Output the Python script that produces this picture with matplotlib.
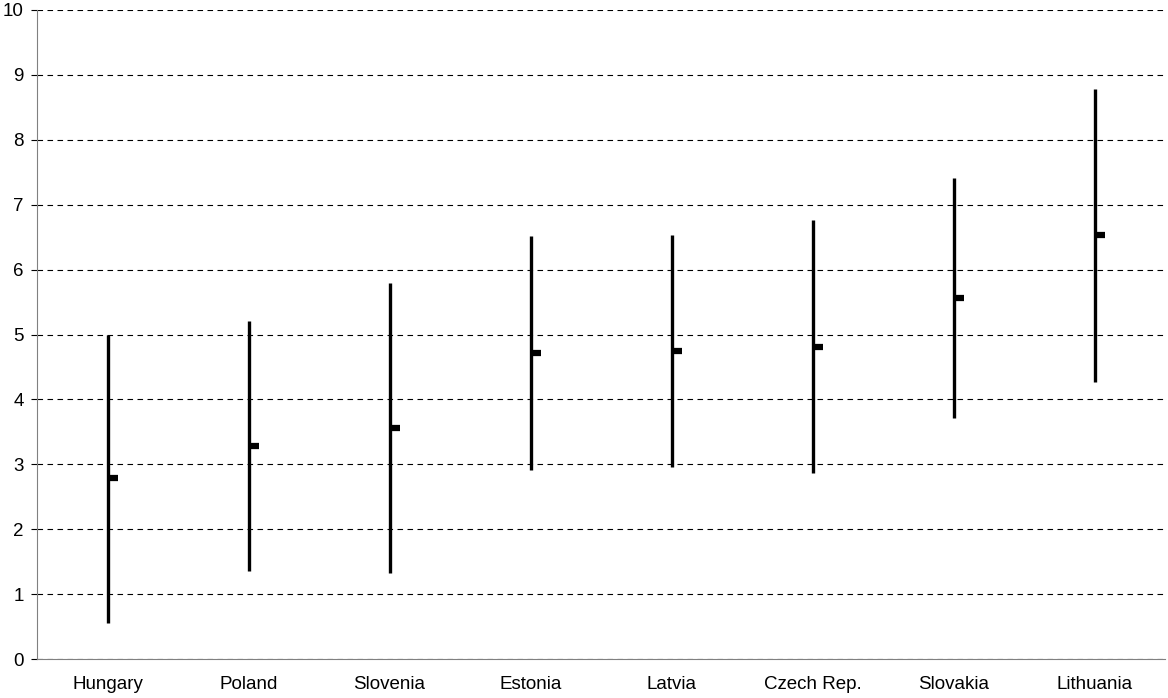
import matplotlib.pyplot as plt
import numpy as np

plt.rcParams['font.family'] = ['Liberation Sans', 'DejaVu Sans']

countries = ['Hungary', 'Poland', 'Slovenia', 'Estonia', 'Latvia',
             'Czech Rep.', 'Slovakia', 'Lithuania']
high = [5.0, 5.21, 5.80, 6.52, 6.54, 6.76, 7.41, 8.78]
low = [0.55, 1.35, 1.32, 2.91, 2.96, 2.86, 3.72, 4.27]
close = [2.79, 3.28, 3.56, 4.72, 4.75, 4.81, 5.57, 6.54]

x = np.arange(len(countries))

fig = plt.figure(figsize=(11.68, 6.98), dpi=100)
ax = fig.add_axes([37/1168, 1-659/698, 1128/1168, 649/698])

ax.set_axisbelow(True)
ax.yaxis.grid(True, color='black', linestyle=(0, (5, 4)), linewidth=0.8)

# high-low lines and close ticks
ax.vlines(x, low, high, color='black', linewidth=2.4)
ax.hlines(close, x, x + 0.075, color='black', linewidth=4.5)

ax.set_xlim(-0.5, len(countries) - 0.5)
ax.set_ylim(0, 10)
ax.set_yticks(range(0, 11))
ax.set_xticks(x)
ax.set_xticklabels(countries)
ax.tick_params(axis='x', length=0, pad=12.5, labelsize=13.5)
ax.tick_params(axis='y', length=4.5, width=0.8, color='black', labelsize=13.5, pad=5)

for s in ['top', 'right']:
    ax.spines[s].set_visible(False)
ax.spines['left'].set_color('#808080')
ax.spines['bottom'].set_color('#808080')

fig.savefig('out.png', dpi=100)
